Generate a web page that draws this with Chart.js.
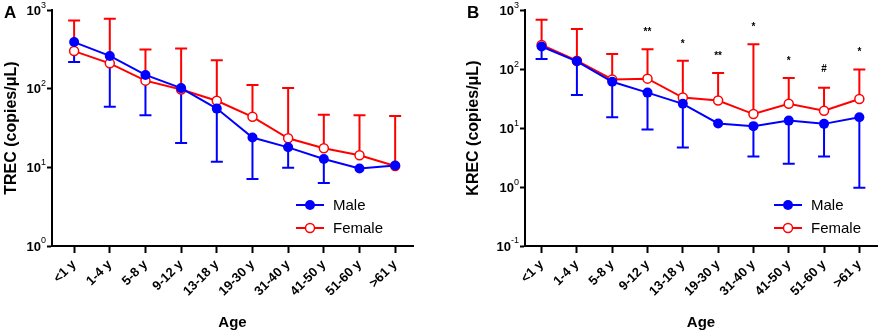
<!DOCTYPE html>
<html>
<head>
<meta charset="utf-8">
<script src="https://cdn.jsdelivr.net/npm/chart.js@4.4.0/dist/chart.umd.min.js"></script>
<style>
  body { margin: 0; background: #fff; }
  .panel { position: absolute; top: 0; height: 332px; }
  #wrapA { left: 0; width: 440px; }
  #wrapB { left: 440px; width: 443px; }
</style>
</head>
<body>
<div class="panel" id="wrapA"><canvas id="trecChart"></canvas></div>
<div class="panel" id="wrapB"><canvas id="krecChart"></canvas></div>
<script>
const ageGroups = ['<1 y', '1-4 y', '5-8 y', '9-12 y', '13-18 y', '19-30 y', '31-40 y', '41-50 y', '51-60 y', '>61 y']

// TREC (copies/uL), male lower error ends and female upper error ends
const trecMale = [393, 262, 150, 102, 56, 24, 18, 12.8, 9.7, 10.6]
const trecMaleLow = [220, 59, 46, 20.4, 11.8, 7.1, 9.9, 6.35, null, null]
const trecFemale = [302, 211, 127, 98, 70.5, 44, 23.5, 17.5, 14.3, 10.4]
const trecFemaleHigh = [741, 776, 317, 326, 231, 112, 102, 46.6, 46, 45]
const trecTicks = [1, 10, 100, 1000]

// KREC (copies/uL)
const krecMale = [242, 136, 61, 40, 25.8, 12, 10.8, 13.4, 11.8, 15.3]
const krecMaleLow = [149, 36.4, 15.3, 9.5, 4.7, null, 3.3, 2.48, 3.3, 0.97]
const krecFemale = [258, 139, 67, 69, 33, 29.3, 17.3, 25.8, 19.7, 31.2]
const krecFemaleHigh = [690, 482, 180, 218, 139, 86, 264, 70.8, 48.2, 98.7]
const krecSignif = ['', '', '', '**', '*', '**', '*', '*', '#', '*']
const krecTicks = [0.1, 1, 10, 100, 1000]

const BLUE = '#0000ff'
const RED = '#ff0000'
const FONT = "'Liberation Sans', Arial, sans-serif"

function extras(cfg) {
    return {
        id: 'extras',
        beforeDatasetsDraw(chart) {
            const ctx = chart.ctx
            const x = chart.scales.x, y = chart.scales.y
            ctx.save()
            ctx.lineWidth = 2
            const bars = [[cfg.female, cfg.femaleHigh, RED], [cfg.male, cfg.maleLow, BLUE]]
            bars.forEach(function(b) {
                ctx.strokeStyle = b[2]
                b[0].forEach(function(m, i) {
                    const e = b[1][i]
                    if (e == null) return
                    const px = x.getPixelForValue(i)
                    const y0 = y.getPixelForValue(m)
                    const y1 = y.getPixelForValue(e)
                    ctx.beginPath()
                    ctx.moveTo(px, y0)
                    ctx.lineTo(px, y1)
                    ctx.moveTo(px - 6, y1)
                    ctx.lineTo(px + 6, y1)
                    ctx.stroke()
                })
            })
            ctx.restore()
        },
        afterDraw(chart) {
            const ctx = chart.ctx
            const x = chart.scales.x, y = chart.scales.y
            const area = chart.chartArea
            ctx.save()
            ctx.fillStyle = '#000'

            // y tick labels as 10 with superscript exponent
            cfg.yTicks.forEach(function(v) {
                const py = y.getPixelForValue(v)
                const exp = String(Math.round(Math.log10(v)))
                ctx.font = '9px ' + FONT
                const supW = ctx.measureText(exp).width
                const right = area.left - 6
                ctx.textAlign = 'left'
                ctx.textBaseline = 'middle'
                ctx.fillText(exp, right - supW, py - 5)
                ctx.font = 'bold 13px ' + FONT
                ctx.textAlign = 'right'
                ctx.fillText('10', right - supW, py + 1)
            })

            // panel letter
            ctx.font = 'bold 17px ' + FONT
            ctx.textAlign = 'left'
            ctx.textBaseline = 'top'
            ctx.fillText(cfg.letter, cfg.letterX, 5)

            // significance marks above the female error bars
            if (cfg.signif) {
                ctx.font = 'bold 10px ' + FONT
                ctx.textAlign = 'center'
                ctx.textBaseline = 'alphabetic'
                cfg.signif.forEach(function(s, i) {
                    if (!s) return
                    const py = y.getPixelForValue(cfg.femaleHigh[i])
                    ctx.fillText(s, x.getPixelForValue(i), py - (s === '#' ? 16 : 14))
                })
            }

            // legend
            const items = [['Male', BLUE, true, 205], ['Female', RED, false, 228]]
            items.forEach(function(it) {
                const cx = cfg.legendX, cy = it[3]
                ctx.strokeStyle = it[1]
                ctx.lineWidth = 2
                ctx.beginPath()
                ctx.moveTo(cx - 14, cy)
                ctx.lineTo(cx + 14, cy)
                ctx.stroke()
                ctx.beginPath()
                if (it[2]) {
                    ctx.fillStyle = it[1]
                    ctx.arc(cx, cy, 5, 0, Math.PI * 2)
                    ctx.fill()
                } else {
                    ctx.fillStyle = '#fff'
                    ctx.lineWidth = 1.5
                    ctx.arc(cx, cy, 4.5, 0, Math.PI * 2)
                    ctx.fill()
                    ctx.stroke()
                }
                ctx.fillStyle = '#000'
                ctx.font = '15px ' + FONT
                ctx.textAlign = 'left'
                ctx.textBaseline = 'middle'
                ctx.fillText(it[0], cx + 23, cy + 1)
            })
            ctx.restore()
        }
    }
}

function drawPanel(cfg) {
    const toPoints = arr => arr.map((v, i) => ({ x: i, y: v }))
    new Chart(document.getElementById(cfg.canvas), {
        type: 'line',
        data: {
            datasets: [{
                label: 'Male',
                data: toPoints(cfg.male),
                borderColor: BLUE,
                backgroundColor: BLUE,
                borderWidth: 2,
                pointRadius: 5,
                pointBackgroundColor: BLUE,
                pointBorderWidth: 0,
                clip: false
            }, {
                label: 'Female',
                data: toPoints(cfg.female),
                borderColor: RED,
                backgroundColor: '#fff',
                borderWidth: 2,
                pointRadius: 4.5,
                pointBorderWidth: 1.5,
                pointBackgroundColor: '#fff',
                pointBorderColor: RED,
                clip: false
            }]
        },
        options: {
            responsive: true,
            maintainAspectRatio: false,
            animation: false,
            layout: { padding: { left: cfg.padLeft, top: 7, right: cfg.padRight, bottom: 0 } },
            plugins: { legend: { display: false }, tooltip: { enabled: false } },
            scales: {
                x: {
                    type: 'linear',
                    min: cfg.xMin,
                    max: 9.5,
                    afterBuildTicks: s => { s.ticks = ageGroups.map((_, i) => ({ value: i })) },
                    afterFit: s => { s.height = 332 - 246 },
                    ticks: {
                        autoSkip: false,
                        maxRotation: 45,
                        minRotation: 45,
                        padding: 4,
                        color: '#000',
                        font: { family: FONT, size: 13, weight: 'bold' },
                        callback: v => ageGroups[v]
                    },
                    grid: { drawOnChartArea: false, tickLength: 7, tickWidth: 2, tickColor: '#000' },
                    border: { color: '#000', width: 2 },
                    title: {
                        display: true,
                        text: 'Age',
                        color: '#000',
                        padding: { top: 0, bottom: 0 },
                        font: { family: FONT, size: 15, weight: 'bold' }
                    }
                },
                y: {
                    type: 'logarithmic',
                    min: cfg.yTicks[0],
                    max: cfg.yTicks[cfg.yTicks.length - 1],
                    afterBuildTicks: s => { s.ticks = cfg.yTicks.map(v => ({ value: v })) },
                    afterFit: s => { s.width = cfg.axisW },
                    ticks: { autoSkip: false, callback: () => '' },
                    grid: { drawOnChartArea: false, tickLength: 5, tickWidth: 2, tickColor: '#000' },
                    border: { color: '#000', width: 2 },
                    title: {
                        display: true,
                        text: cfg.yTitle,
                        color: '#000',
                        padding: { top: 2, bottom: 0 },
                        font: { family: FONT, size: 16, weight: 'bold' }
                    }
                }
            }
        },
        plugins: [extras(cfg)]
    })
}

drawPanel({
    canvas: 'trecChart', letter: 'A', letterX: 4, yTitle: 'TREC (copies/\u03bcL)',
    male: trecMale, maleLow: trecMaleLow, female: trecFemale, femaleHigh: trecFemaleHigh,
    yTicks: trecTicks, xMin: -0.62, padLeft: 0, padRight: 27, axisW: 52, legendX: 310
})

drawPanel({
    canvas: 'krecChart', letter: 'B', letterX: 27, yTitle: 'KREC (copies/\u03bcL)',
    male: krecMale, maleLow: krecMaleLow, female: krecFemale, femaleHigh: krecFemaleHigh,
    signif: krecSignif, yTicks: krecTicks, xMin: -0.47, padLeft: 22, padRight: 2, axisW: 63, legendX: 348
})
</script>
</body>
</html>
